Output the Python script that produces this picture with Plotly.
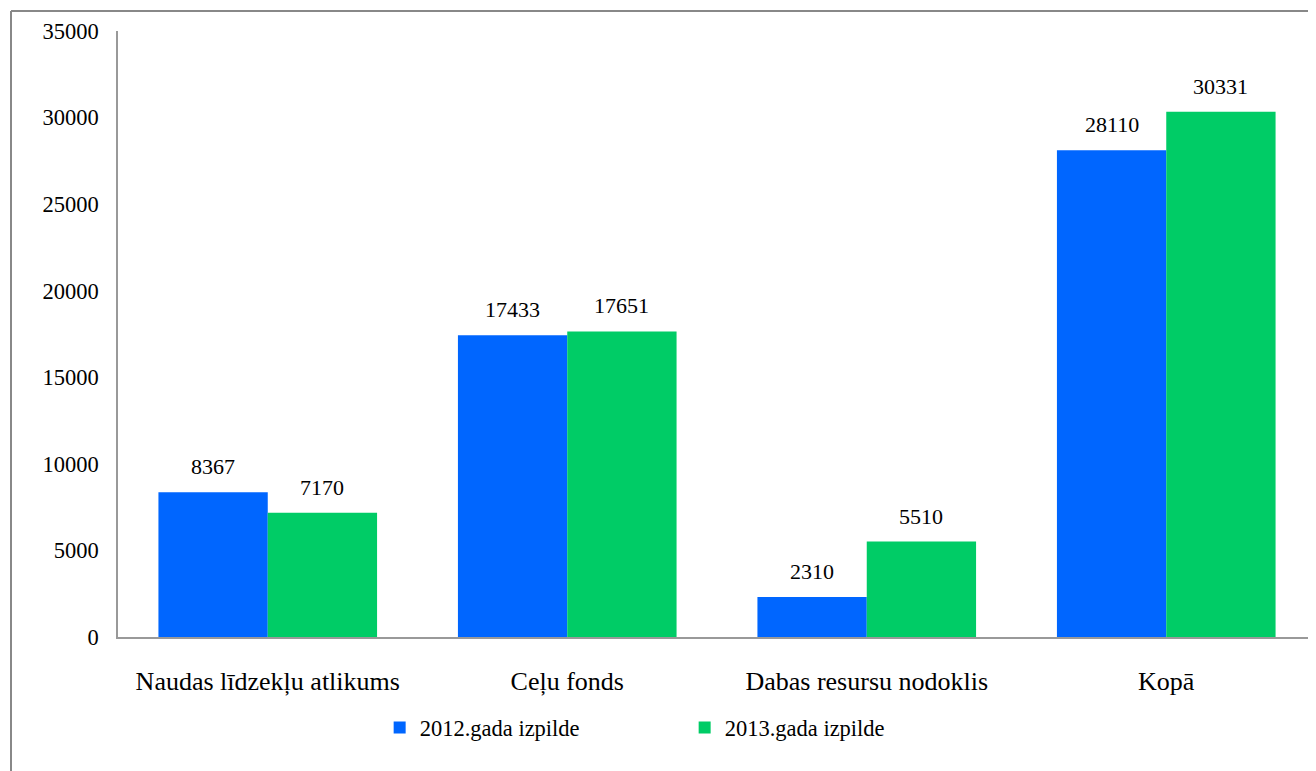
import plotly.graph_objects as go

categories = ["Naudas līdzekļu atlikums", "Ceļu fonds", "Dabas resursu nodoklis", "Kopā"]
series_2012 = [8367, 17433, 2310, 28110]
series_2013 = [7170, 17651, 5510, 30331]
series_names = ["2012.gada izpilde", "2013.gada izpilde"]
y_ticks = [0, 5000, 10000, 15000, 20000, 25000, 30000, 35000]

# page body has an 8px margin, so the figure is sized to fit the window
W, H = 1308, 763
L, R, T, B = 110, 0, 23, 134
pw = W - L - R
ph = H - T - B

BARGAP = 0.27
bar_w = (1 - BARGAP) / 2

font = dict(family="Liberation Serif, Times New Roman, serif", color="#000000")

fig = go.Figure()
fig.add_trace(go.Bar(x=categories, y=series_2012, name=series_names[0],
                     marker=dict(color="#0066FF", line=dict(width=0))))
fig.add_trace(go.Bar(x=categories, y=series_2013, name=series_names[1],
                     marker=dict(color="#00CC66", line=dict(width=0))))

# data labels, placed through the axes
for si, vals in enumerate([series_2012, series_2013]):
    off = (si - 0.5) * bar_w
    for ci, v in enumerate(vals):
        fig.add_annotation(x=ci + off, y=v, xref="x", yref="y", text=str(v),
                           showarrow=False, yanchor="bottom", yshift=11,
                           font=dict(size=22, **font))

# outer border
bx = (3 - L) / pw
by = (H - B - 3) / ph
fig.add_shape(type="line", xref="paper", yref="paper", x0=bx, x1=1.02, y0=by, y1=by,
              line=dict(color="#888888", width=2))
fig.add_shape(type="line", xref="paper", yref="paper", x0=bx, x1=bx, y0=by, y1=-0.3,
              line=dict(color="#888888", width=2))

fig.update_layout(
    width=W, height=H,
    margin=dict(l=L, r=R, t=T, b=B, pad=0),
    paper_bgcolor="white", plot_bgcolor="white",
    barmode="group", bargap=BARGAP, bargroupgap=0,
    font=dict(size=22, **font),
    showlegend=True,
    legend=dict(orientation="h", x=0.473, xanchor="center", y=-0.150, yanchor="middle",
                font=dict(size=22.5, **font), itemwidth=30, tracegroupgap=0,
                entrywidth=260),
    xaxis=dict(showline=True, linecolor="#999999", linewidth=1.5, ticks="",
               tickfont=dict(size=26, **font), range=[-0.5, 3.5], fixedrange=True,
               ticklabelstandoff=20),
    yaxis=dict(range=[0, 35000], tickvals=y_ticks, ticktext=[str(v) for v in y_ticks],
               showline=True, linecolor="#999999", linewidth=1.5, showgrid=False,
               zeroline=False, ticks="", ticklabelstandoff=13,
               tickfont=dict(size=22.5, **font)),
)

fig.write_html("out.html")
